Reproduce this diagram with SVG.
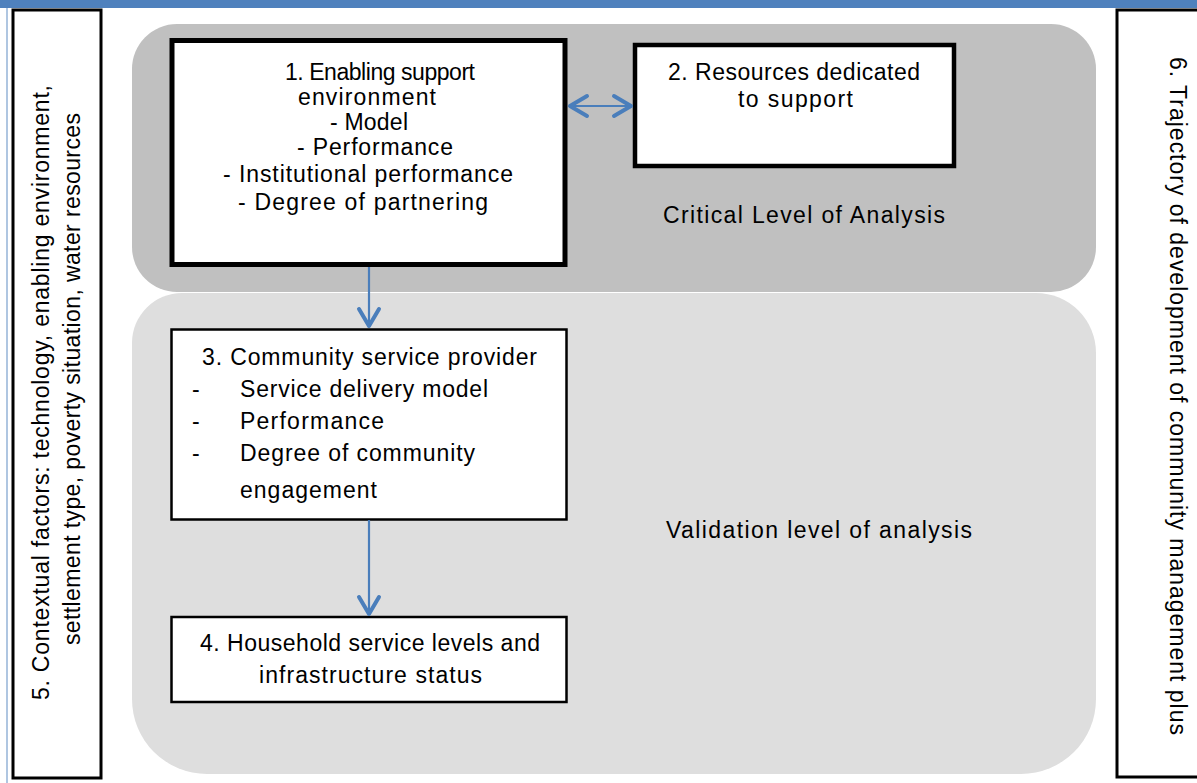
<svg xmlns="http://www.w3.org/2000/svg" width="1197" height="783" viewBox="0 0 1197 783">
<defs>
<style>
text { font-family: "Liberation Sans", Arial, sans-serif; font-size: 23px; fill: #000; }
.box { fill: #fff; stroke: #000; }
.thick { stroke-width: 5; }
.thin { stroke-width: 2.5; }
.side { fill: #fff; stroke: #000; stroke-width: 3; }
.conn { stroke: #4a7ebb; stroke-width: 2.2; fill: none; }
</style>
<marker id="chev" viewBox="-20 -14 24 28" markerUnits="userSpaceOnUse" markerWidth="24" markerHeight="28" refX="0" refY="0" orient="auto-start-reverse">
<path d="M -17,-10 L 0,0 L -17,10" fill="none" stroke="#4a7ebb" stroke-width="4" stroke-linecap="round" stroke-linejoin="round"/>
</marker>
</defs>
<rect x="0" y="0" width="1197" height="783" fill="#fff"/>
<rect x="0" y="0" width="1197" height="8" fill="#4f81bd"/>
<line x1="7" y1="8" x2="7" y2="783" stroke="#95b3d7" stroke-width="1.5"/>

<g id="critical-level">
<rect x="132" y="24" width="964" height="268" rx="45" ry="45" fill="#c0c0c0"/>
<text x="663" y="223" textLength="282">Critical Level of Analysis</text>
</g>
<g id="validation-level">
<path d="M182,293 H1036 A60,60 0 0 1 1096,353 V699 A75,75 0 0 1 1021,774 H207 A75,75 0 0 1 132,699 V343 A50,50 0 0 1 182,293 Z" fill="#dedede"/>
<text x="666" y="538" textLength="306">Validation level of analysis</text>
</g>

<g id="node5">
<rect class="side" x="13" y="10" width="88" height="768"/>
<text transform="translate(49,700) rotate(-90)" textLength="615">5. Contextual factors: technology, enabling environment,</text>
<text transform="translate(80,645) rotate(-90)" textLength="532">settlement type, poverty situation, water resources</text>
</g>

<g id="node6">
<rect class="side" x="1117" y="10" width="100" height="767"/>
<text transform="translate(1170,57) rotate(90)" textLength="678">6. Trajectory of development of community management plus</text>
</g>

<g id="node1">
<rect class="box thick" x="172" y="40.5" width="393" height="224"/>
<text x="285" y="80" textLength="190">1. Enabling support</text>
<text x="298" y="105" textLength="138">environment</text>
<text x="330" y="130" textLength="78">- Model</text>
<text x="297" y="155" textLength="156">- Performance</text>
<text x="223" y="182" textLength="290">- Institutional performance</text>
<text x="238" y="210" textLength="250">- Degree of partnering</text>
</g>

<g id="node2">
<rect class="box" stroke-width="4.5" x="635" y="45" width="319" height="121"/>
<text x="668" y="80" textLength="252">2. Resources dedicated</text>
<text x="738" y="107" textLength="115">to support</text>
</g>

<g id="node3">
<rect class="box thin" x="171.5" y="329.5" width="395" height="190"/>
<text x="202" y="365" textLength="335">3. Community service provider</text>
<text x="192" y="397">-</text>
<text x="240" y="397" textLength="248">Service delivery model</text>
<text x="192" y="429">-</text>
<text x="240" y="429" textLength="144">Performance</text>
<text x="192" y="461">-</text>
<text x="240" y="461" textLength="235">Degree of community</text>
<text x="240" y="498" textLength="137">engagement</text>
</g>

<g id="node4">
<rect class="box thin" x="171.5" y="617" width="395" height="85"/>
<text x="200" y="651" textLength="340">4. Household service levels and</text>
<text x="259" y="683" textLength="223">infrastructure status</text>
</g>

<g id="connectors">
<line class="conn" x1="570" y1="106" x2="631" y2="106" marker-start="url(#chev)" marker-end="url(#chev)"/>
<line class="conn" x1="369" y1="267" x2="369" y2="326" marker-end="url(#chev)"/>
<line class="conn" x1="369" y1="520" x2="369" y2="614" marker-end="url(#chev)"/>
</g>
</svg>
